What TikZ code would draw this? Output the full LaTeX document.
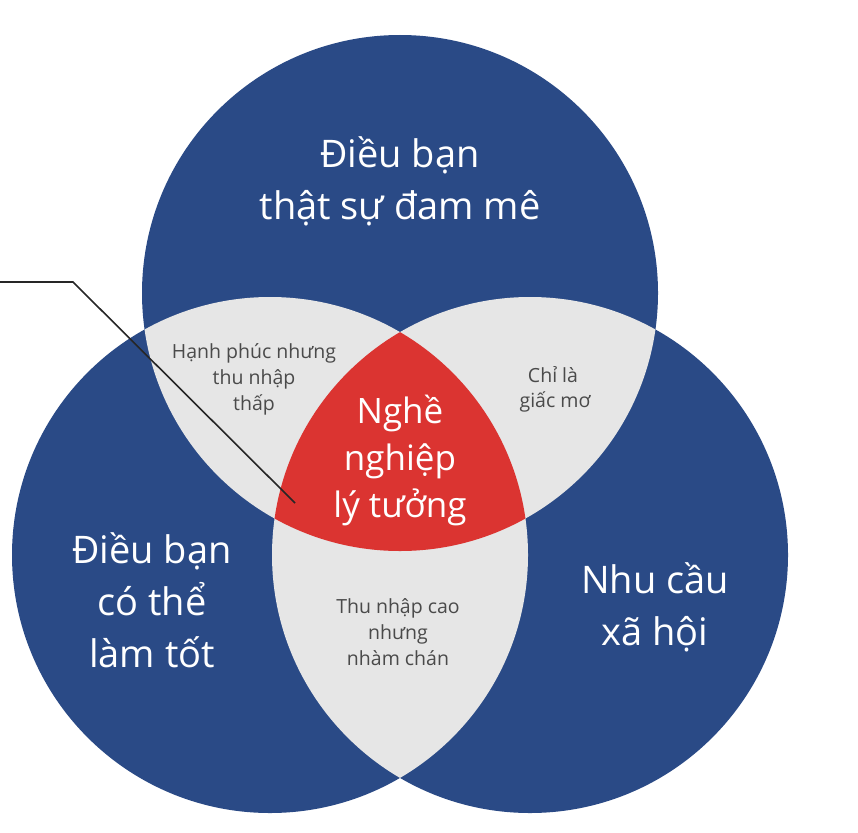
\documentclass[tikz,border=0pt]{standalone}
\usepackage{fontspec}
\setmainfont{Open Sans}
\definecolor{vblue}{HTML}{2A4A86}
\definecolor{vgray}{HTML}{E6E6E6}
\definecolor{vred}{HTML}{DB3431}
\definecolor{vtext}{HTML}{4A4A4A}
\begin{document}
\begin{tikzpicture}[x=1pt,y=-1pt,
  big/.style={font=\fontsize{38}{46}\selectfont, text=white, anchor=base, inner sep=0pt},
  mid/.style={font=\fontsize{35}{42}\selectfont, text=white, anchor=base, inner sep=0pt},
  small/.style={font=\fontsize{19.5}{24}\selectfont, text=vtext, anchor=base, inner sep=0pt},
  leader/.style={line width=1.6pt, draw=black!85}]
\useasboundingbox (0,0) rectangle (858,832);
\coordinate (T) at (400,293);
\coordinate (L) at (270,555);
\coordinate (R) at (530,555);
\def\rr{258pt}
% circles
\fill[vblue] (T) circle[radius=\rr];
\fill[vblue] (L) circle[radius=\rr];
\fill[vblue] (R) circle[radius=\rr];
% pairwise intersections
\begin{scope}
  \clip (T) circle[radius=\rr];
  \fill[vgray] (L) circle[radius=\rr];
  \fill[vgray] (R) circle[radius=\rr];
\end{scope}
\begin{scope}
  \clip (L) circle[radius=\rr];
  \fill[vgray] (R) circle[radius=\rr];
\end{scope}
% triple intersection
\begin{scope}
  \clip (T) circle[radius=\rr];
  \clip (L) circle[radius=\rr];
  \fill[vred] (R) circle[radius=\rr];
\end{scope}
% big labels
\node[big] (t1) at (400,167) {Điều bạn};
\node[big] (t2) at (400,219) {thật sự đam mê};
\node[big] (l1) at (152,563) {Điều bạn};
\node[big] (l2) at (152,615) {có thể};
\node[big] (l3) at (152,667) {làm tốt};
\node[big] (r1) at (655,593) {Nhu cầu};
\node[big] (r2) at (655,645) {xã hội};
% centre
\node[mid] (c1) at (400,423) {Nghề};
\node[mid] (c2) at (400,470) {nghiệp};
\node[mid] (c3) at (400,517) {lý tưởng};
% small labels
\node[small] (a1) at (254,358) {Hạnh phúc nhưng};
\node[small] (a2) at (254,384) {thu nhập};
\node[small] (a3) at (254,410) {thấp};
\node[small] (b1) at (553,382) {Chỉ là};
\node[small] (b2) at (555,407) {giấc mơ};
\node[small] (d1) at (398,613) {Thu nhập cao};
\node[small] (d2) at (398,639) {nhưng};
\node[small] (d3) at (398,665) {nhàm chán};
% leader line
\coordinate (p0) at (0,282);
\coordinate (p1) at (73,282);
\coordinate (p2) at (295,503);
\draw[leader] (p0) -- (p1) -- (p2);
\end{tikzpicture}
\end{document}
